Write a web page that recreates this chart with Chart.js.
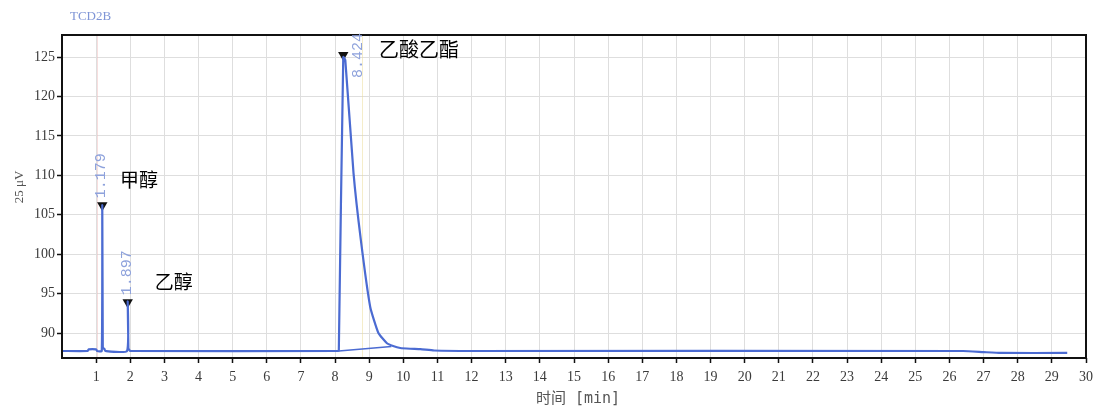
<!DOCTYPE html>
<html>
<head>
<meta charset="utf-8">
<script src="https://cdn.jsdelivr.net/npm/chart.js@4.4.1/dist/chart.umd.min.js"></script>
<style>
  html, body { margin: 0; padding: 0; background: #fff; }
  canvas { display: block; }
</style>
</head>
<body>
<canvas id="chart" width="1100" height="412"></canvas>
<script>
// chromatogram trace (min, 25 uV)
const traceTime = [0, 0.75, 0.78, 1.0, 1.03, 1.165, 1.18, 1.195, 1.21, 1.24, 1.27,
  1.905, 1.925, 1.945, 1.97, 2.0, 8.1, 8.11, 8.24, 8.3, 8.54, 8.755, 9.03, 9.27,
  9.52, 9.7, 9.91, 10.2, 10.5, 10.9, 12, 26.4, 27.0, 27.5, 29.45];
const traceValue = [87.72, 87.72, 87.92, 87.92, 87.72, 87.72, 106.2, 88.3, 88.05, 88.0, 87.72,
  87.72, 94.0, 88.1, 87.85, 87.72, 87.72, 87.8, 125.0, 124.6, 110.3, 101.8, 93.3, 90.0,
  88.7, 88.35, 88.1, 88.0, 87.95, 87.78, 87.72, 87.72, 87.58, 87.47, 87.47];

// integration baseline under the ethyl acetate peak
const baseTime = [8.11, 9.65];
const baseValue = [87.72, 88.3];

// peak markers
const peakTime = [1.18, 1.925, 8.24];
const peakValue = [106.2, 93.9, 125.25];
const peakLabel = ['1.179', '1.897', '8.424'];
const peakName = ['甲醇', '乙醇', '乙酸乙酯'];

// faint integration event lines
const eventTime = [1.03, 8.79];

const xTicks = [1, 2, 3, 4, 5, 6, 7, 8, 9, 10, 11, 12, 13, 14, 15, 16, 17, 18, 19, 20,
  21, 22, 23, 24, 25, 26, 27, 28, 29, 30];
const yTicks = [90, 95, 100, 105, 110, 115, 120, 125];

const BLUE = '#4b6bd2';
const TICK_FONT = { family: '"Liberation Serif", "DejaVu Serif", serif', size: 14 };

const annotations = {
  id: 'annotations',
  beforeDatasetsDraw(chart) {
    const { ctx, chartArea, scales: { x } } = chart;
    const colors = ['rgba(240, 190, 190, 0.5)', 'rgba(235, 220, 150, 0.5)'];
    ctx.save();
    ctx.lineWidth = 1;
    eventTime.forEach((t, i) => {
      const px = Math.round(x.getPixelForValue(t)) + 0.5;
      ctx.strokeStyle = colors[i % colors.length];
      ctx.beginPath();
      ctx.moveTo(px, chartArea.top);
      ctx.lineTo(px, chartArea.bottom);
      ctx.stroke();
    });
    ctx.restore();
  },
  afterDraw(chart) {
    const { ctx, chartArea, scales: { x, y } } = chart;
    ctx.save();

    // frame
    ctx.strokeStyle = '#111';
    ctx.lineWidth = 2;
    ctx.strokeRect(chartArea.left, chartArea.top, chartArea.right - chartArea.left, chartArea.bottom - chartArea.top);

    // instrument name
    ctx.fillStyle = '#7f95d6';
    ctx.font = '13px "Liberation Serif", serif';
    ctx.textAlign = 'left';
    ctx.textBaseline = 'middle';
    ctx.fillText('TCD2B', 70, 17);

    // axis titles
    ctx.fillStyle = '#555';
    ctx.font = '15px "DejaVu Sans Mono", "Noto Sans CJK SC", monospace';
    ctx.textAlign = 'center';
    ctx.fillText('时间 [min]', (chartArea.left + chartArea.right) / 2 + 4, 399);

    ctx.save();
    ctx.translate(20, 187);
    ctx.rotate(-Math.PI / 2);
    ctx.font = '13px "Liberation Serif", serif';
    ctx.fillText('25 μV', 0, 0);
    ctx.restore();

    // retention time labels, rotated
    ctx.font = '15px "Liberation Mono", "DejaVu Sans Mono", monospace';
    ctx.fillStyle = '#8ea2dc';
    peakLabel.forEach((txt, i) => {
      const len = ctx.measureText(txt).width;
      let px = x.getPixelForValue(peakTime[i]) - 1;
      let bottom = y.getPixelForValue(peakValue[i]) - 7;
      if (bottom - len < chartArea.top) {
        px += 16;
        bottom = chartArea.top - 2 + len;
      }
      ctx.save();
      ctx.translate(px, bottom);
      ctx.rotate(-Math.PI / 2);
      ctx.textAlign = 'left';
      ctx.textBaseline = 'middle';
      ctx.fillText(txt, 0, 0);
      ctx.restore();
    });

    // compound names
    const namePos = [[1.7, 109.4], [2.72, 96.5], [9.29, 125.9]];
    const nameSize = [19, 19, 20];
    ctx.fillStyle = '#000';
    ctx.textAlign = 'left';
    ctx.textBaseline = 'middle';
    peakName.forEach((name, i) => {
      ctx.font = nameSize[i] + 'px "Noto Sans CJK SC", sans-serif';
      ctx.fillText(name, x.getPixelForValue(namePos[i][0]), y.getPixelForValue(namePos[i][1]));
    });

    ctx.restore();
  }
};

new Chart(document.getElementById('chart'), {
  type: 'line',
  data: {
    datasets: [
      {
        data: traceTime.map((t, i) => ({ x: t, y: traceValue[i] })),
        borderColor: BLUE,
        borderWidth: 2.2,
        pointRadius: 0,
        tension: 0.15,
      },
      {
        data: baseTime.map((t, i) => ({ x: t, y: baseValue[i] })),
        borderColor: BLUE,
        borderWidth: 1.5,
        pointRadius: 0,
      },
      {
        data: peakTime.map((t, i) => ({ x: t, y: peakValue[i] })),
        showLine: false,
        pointStyle: 'triangle',
        rotation: 180,
        pointRadius: 6,
        backgroundColor: '#111',
        borderColor: '#111',
        borderWidth: 0,
      },
    ],
  },
  options: {
    responsive: false,
    animation: false,
    devicePixelRatio: 1,
    layout: { padding: { top: 35, right: 14, left: 0, bottom: 0 } },
    plugins: {
      legend: { display: false },
      tooltip: { enabled: false },
    },
    scales: {
      x: {
        type: 'linear',
        min: 0,
        max: 30,
        afterBuildTicks: (scale) => { scale.ticks = xTicks.map(v => ({ value: v })); },
        afterFit: (scale) => { scale.height = 54; },
        ticks: {
          color: '#3a3a3a',
          font: TICK_FONT,
          padding: 6,
          maxRotation: 0,
          autoSkip: false,
        },
        grid: {
          color: '#dedede',
          lineWidth: 1,
          tickColor: '#111',
          tickLength: 5,
          tickWidth: 1.5,
        },
        border: { display: false },
      },
      y: {
        type: 'linear',
        min: 86.83,
        max: 127.79,
        afterBuildTicks: (scale) => { scale.ticks = yTicks.map(v => ({ value: v })); },
        afterFit: (scale) => { scale.width = 62; },
        ticks: {
          color: '#3a3a3a',
          font: TICK_FONT,
          padding: 2,
        },
        grid: {
          color: '#dedede',
          lineWidth: 1,
          tickColor: '#111',
          tickLength: 5,
          tickWidth: 1.5,
        },
        border: { display: false },
      },
    },
  },
  plugins: [annotations],
});
</script>
</body>
</html>
